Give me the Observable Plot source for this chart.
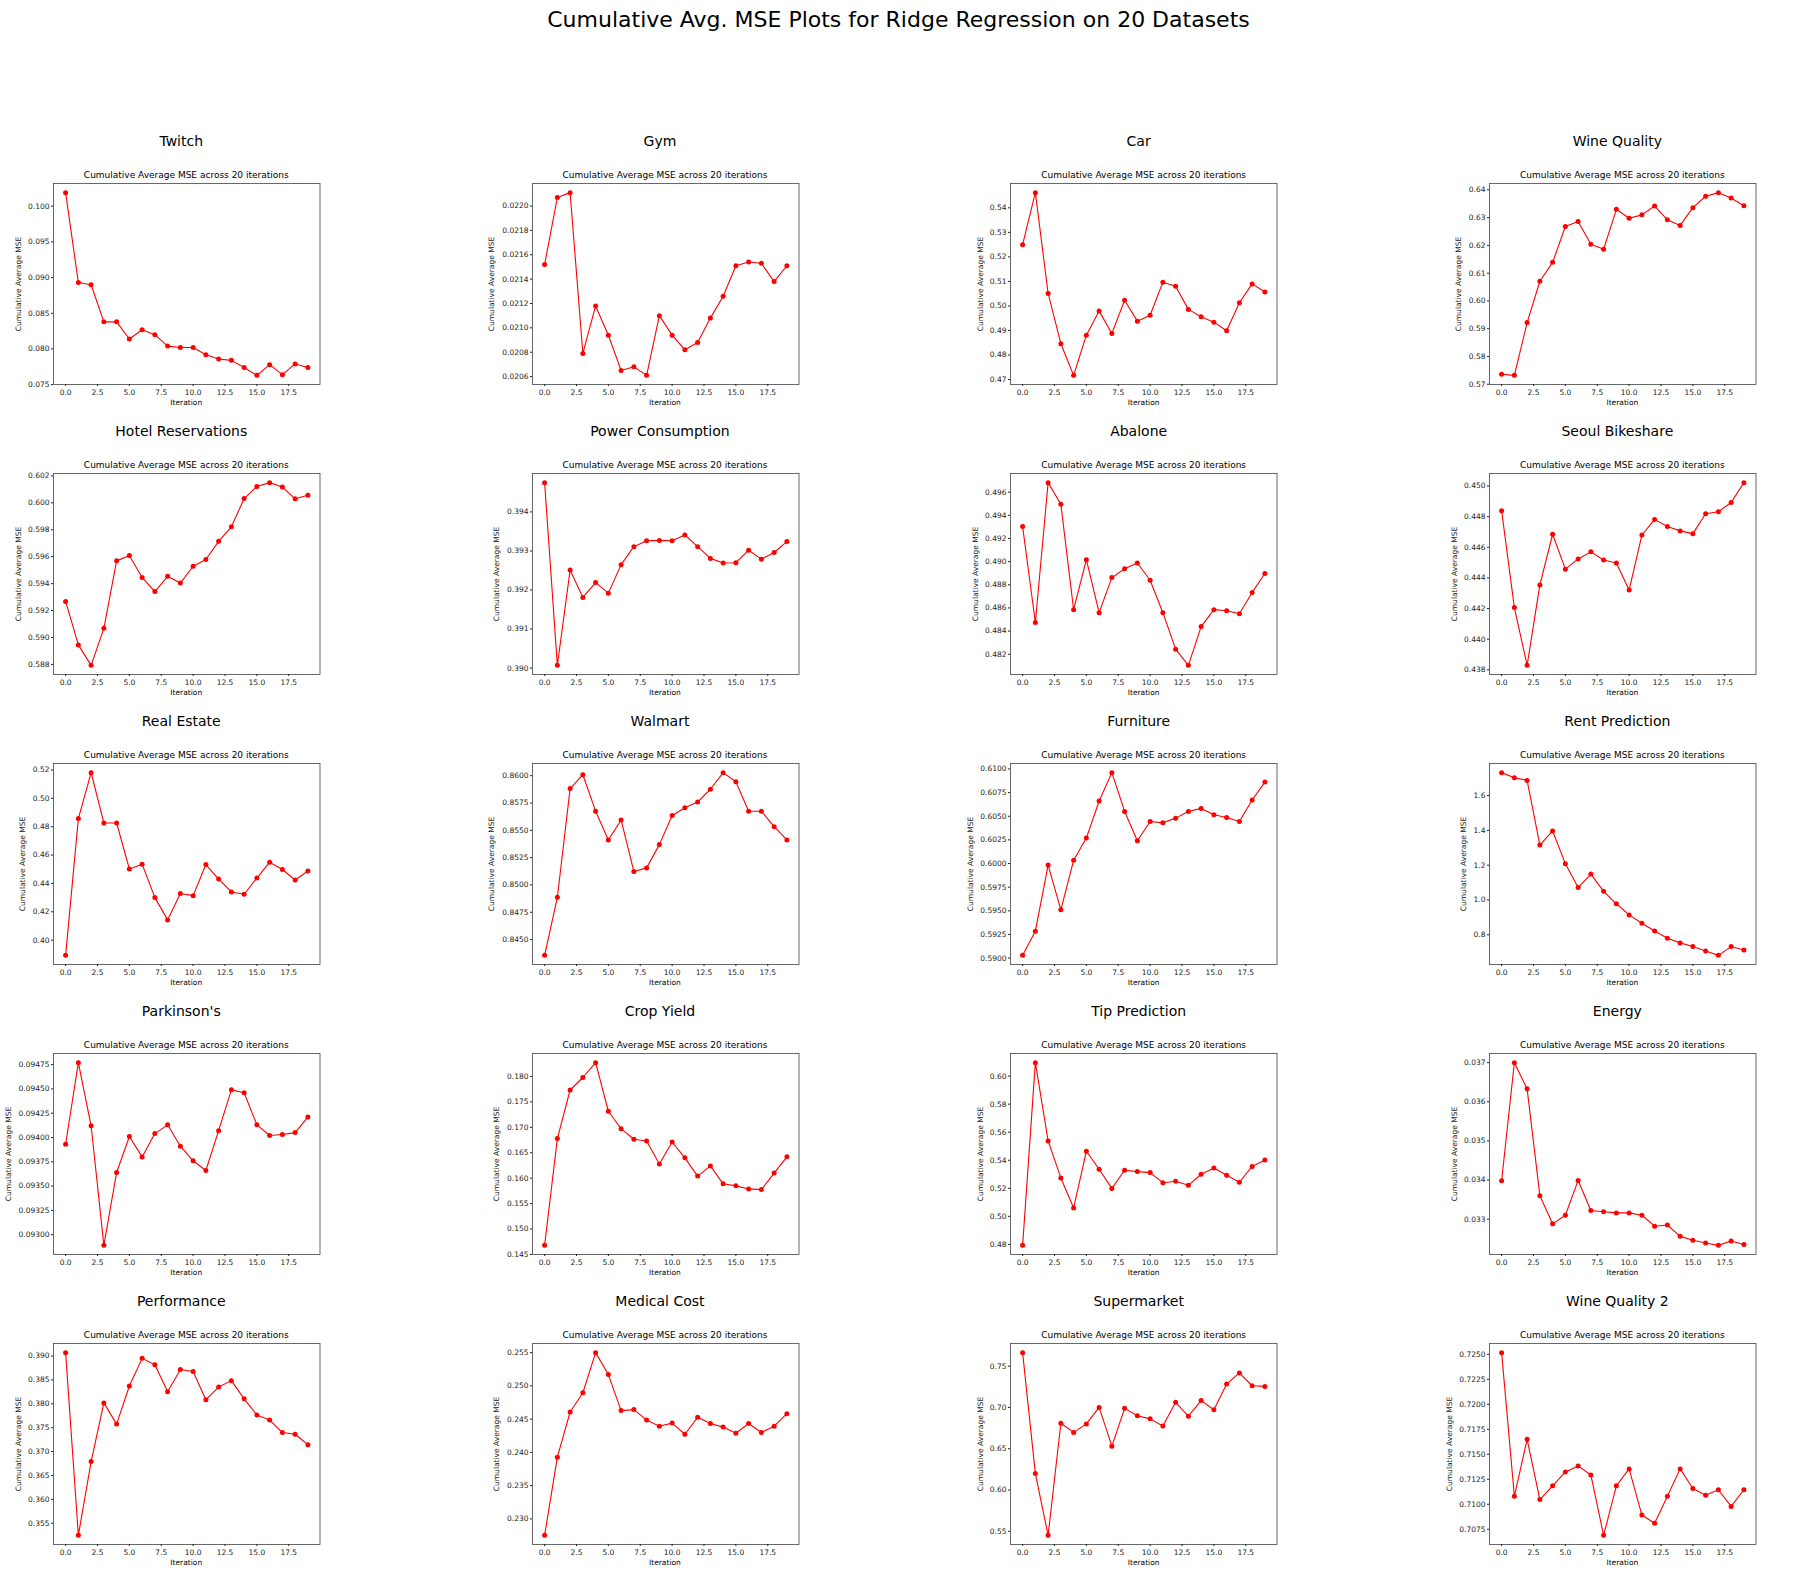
<!DOCTYPE html>
<html>
<head>
<meta charset="utf-8">
<script src="https://cdn.jsdelivr.net/npm/d3@7"></script>
<script src="https://cdn.jsdelivr.net/npm/@observablehq/plot@0.6"></script>
<style>
  html, body { margin: 0; padding: 0; background: #fff; }
  #page { position: relative; width: 1797px; height: 1593px; background: #fff; font-family: "DejaVu Sans", sans-serif; overflow: hidden; }
  .lbl { position: absolute; transform: translate(-50%, -50%); white-space: nowrap; line-height: 1; color: #000; }
  .rot { transform: translate(-50%, -50%) rotate(-90deg); color: #222; }
  .panel { position: absolute; }
</style>
</head>
<body>
<div id="page"></div>
<script>
// ---- Data ----
const suptitle = "Cumulative Avg. MSE Plots for Ridge Regression on 20 Datasets";
const innerTitle = "Cumulative Average MSE across 20 iterations";
const xLabel = "Iteration";
const yLabel = "Cumulative Average MSE";

const datasetNames = ["Twitch", "Gym", "Car", "Wine Quality",
  "Hotel Reservations", "Power Consumption", "Abalone", "Seoul Bikeshare",
  "Real Estate", "Walmart", "Furniture", "Rent Prediction",
  "Parkinson's", "Crop Yield", "Tip Prediction", "Energy",
  "Performance", "Medical Cost", "Supermarket", "Wine Quality 2"];

const iterations = [0,1,2,3,4,5,6,7,8,9,10,11,12,13,14,15,16,17,18,19];
const xTickLabels = ["0.0","2.5","5.0","7.5","10.0","12.5","15.0","17.5"];

const twitchMse = [0.1019,0.0893,0.0890,0.0838,0.0838,0.0814,0.0827,0.0820,0.0804,0.0802,0.0802,0.0792,0.0786,0.0784,0.0774,0.0763,0.0778,0.0764,0.0779,0.0774];
const gymMse = [0.02152,0.02207,0.02211,0.02079,0.02118,0.02094,0.02065,0.02068,0.02061,0.02110,0.02094,0.02082,0.02088,0.02108,0.02126,0.02151,0.02154,0.02153,0.02138,0.02151];
const carMse = [0.5250,0.5462,0.5051,0.4846,0.4717,0.4881,0.4979,0.4888,0.5023,0.4938,0.4962,0.5097,0.5080,0.4986,0.4956,0.4934,0.4899,0.5013,0.5090,0.5057];
const wineQualityMse = [0.5736,0.5732,0.5922,0.6071,0.6139,0.6268,0.6286,0.6204,0.6186,0.6330,0.6298,0.6310,0.6342,0.6292,0.6272,0.6336,0.6377,0.6390,0.6371,0.6343];
const hotelMse = [0.59268,0.58945,0.58793,0.59068,0.59569,0.59609,0.59446,0.59341,0.59454,0.59404,0.59529,0.59579,0.59714,0.59822,0.60032,0.60122,0.60150,0.60117,0.60030,0.60057];
const powerMse = [0.39475,0.39007,0.39251,0.39181,0.39219,0.39192,0.39265,0.39311,0.39326,0.39327,0.39326,0.39341,0.39311,0.39281,0.39269,0.39270,0.39302,0.39279,0.39296,0.39324];
const abaloneMse = [0.49303,0.48474,0.49682,0.49495,0.48585,0.49017,0.48559,0.48862,0.48938,0.48988,0.48839,0.48559,0.48244,0.48104,0.48439,0.48585,0.48576,0.48550,0.48734,0.48897];
const seoulMse = [0.44839,0.44206,0.43829,0.44354,0.44685,0.44457,0.44524,0.44570,0.44517,0.44497,0.44321,0.44680,0.44782,0.44735,0.44707,0.44689,0.44819,0.44832,0.44892,0.45022];
const realEstateMse = [0.3893,0.4857,0.5181,0.4826,0.4826,0.4502,0.4536,0.4300,0.4143,0.4329,0.4314,0.4533,0.4431,0.4340,0.4324,0.4438,0.4550,0.4498,0.4424,0.4488];
const walmartMse = [0.84355,0.84887,0.85882,0.86009,0.85675,0.85412,0.85595,0.85122,0.85156,0.85369,0.85635,0.85706,0.85759,0.85876,0.86028,0.85944,0.85675,0.85675,0.85533,0.85412];
const furnitureMse = [0.59029,0.59285,0.59984,0.59510,0.60034,0.60269,0.60661,0.60961,0.60551,0.60241,0.60444,0.60430,0.60480,0.60551,0.60583,0.60515,0.60487,0.60444,0.60672,0.60861];
const rentMse = [1.7317,1.7027,1.6872,1.3153,1.3966,1.2087,1.0712,1.1487,1.0499,0.9782,0.9143,0.8659,0.8213,0.7806,0.7535,0.7322,0.7070,0.6818,0.7322,0.7128];
const parkinsonsMse = [0.09393,0.09477,0.09412,0.09289,0.09364,0.09401,0.09380,0.09404,0.09413,0.09391,0.09376,0.09366,0.09407,0.09449,0.09446,0.09413,0.09402,0.09403,0.09405,0.09421];
const cropYieldMse = [0.14679,0.16778,0.17734,0.17980,0.18272,0.17316,0.16971,0.16765,0.16732,0.16280,0.16712,0.16400,0.16041,0.16241,0.15889,0.15849,0.15789,0.15775,0.16101,0.16420];
const tipMse = [0.4793,0.6096,0.5538,0.5274,0.5060,0.5464,0.5336,0.5199,0.5329,0.5319,0.5312,0.5240,0.5250,0.5221,0.5300,0.5344,0.5293,0.5243,0.5356,0.5401];
const energyMse = [0.03398,0.03700,0.03633,0.03360,0.03288,0.03310,0.03399,0.03322,0.03319,0.03316,0.03316,0.03310,0.03282,0.03285,0.03256,0.03246,0.03239,0.03233,0.03244,0.03235];
const performanceMse = [0.39071,0.35246,0.36791,0.38019,0.37575,0.38372,0.38951,0.38817,0.38252,0.38718,0.38675,0.38083,0.38351,0.38485,0.38104,0.37765,0.37659,0.37398,0.37363,0.37144];
const medicalMse = [0.22752,0.23928,0.24607,0.24897,0.25500,0.25170,0.24628,0.24643,0.24486,0.24394,0.24440,0.24273,0.24527,0.24435,0.24380,0.24288,0.24435,0.24300,0.24394,0.24582];
const supermarketMse = [0.7664,0.6199,0.5451,0.6809,0.6698,0.6801,0.7001,0.6531,0.6989,0.6899,0.6862,0.6776,0.7063,0.6895,0.7083,0.6972,0.7283,0.7418,0.7263,0.7255];
const wineQuality2Mse = [0.72517,0.71080,0.71650,0.71047,0.71185,0.71323,0.71384,0.71293,0.70689,0.71185,0.71354,0.70892,0.70811,0.71080,0.71354,0.71158,0.71091,0.71145,0.70979,0.71145];

const twitchTicks = ["0.075","0.080","0.085","0.090","0.095","0.100"];
const gymTicks = ["0.0206","0.0208","0.0210","0.0212","0.0214","0.0216","0.0218","0.0220"];
const carTicks = ["0.47","0.48","0.49","0.50","0.51","0.52","0.53","0.54"];
const wineQualityTicks = ["0.57","0.58","0.59","0.60","0.61","0.62","0.63","0.64"];
const hotelTicks = ["0.588","0.590","0.592","0.594","0.596","0.598","0.600","0.602"];
const powerTicks = ["0.390","0.391","0.392","0.393","0.394"];
const abaloneTicks = ["0.482","0.484","0.486","0.488","0.490","0.492","0.494","0.496"];
const seoulTicks = ["0.438","0.440","0.442","0.444","0.446","0.448","0.450"];
const realEstateTicks = ["0.40","0.42","0.44","0.46","0.48","0.50","0.52"];
const walmartTicks = ["0.8450","0.8475","0.8500","0.8525","0.8550","0.8575","0.8600"];
const furnitureTicks = ["0.5900","0.5925","0.5950","0.5975","0.6000","0.6025","0.6050","0.6075","0.6100"];
const rentTicks = ["0.8","1.0","1.2","1.4","1.6"];
const parkinsonsTicks = ["0.09300","0.09325","0.09350","0.09375","0.09400","0.09425","0.09450","0.09475"];
const cropYieldTicks = ["0.145","0.150","0.155","0.160","0.165","0.170","0.175","0.180"];
const tipTicks = ["0.48","0.50","0.52","0.54","0.56","0.58","0.60"];
const energyTicks = ["0.033","0.034","0.035","0.036","0.037"];
const performanceTicks = ["0.355","0.360","0.365","0.370","0.375","0.380","0.385","0.390"];
const medicalTicks = ["0.230","0.235","0.240","0.245","0.250","0.255"];
const supermarketTicks = ["0.55","0.60","0.65","0.70","0.75"];
const wineQuality2Ticks = ["0.7075","0.7100","0.7125","0.7150","0.7175","0.7200","0.7225","0.7250"];

const seriesList = [twitchMse, gymMse, carMse, wineQualityMse, hotelMse, powerMse, abaloneMse, seoulMse,
  realEstateMse, walmartMse, furnitureMse, rentMse, parkinsonsMse, cropYieldMse, tipMse, energyMse,
  performanceMse, medicalMse, supermarketMse, wineQuality2Mse];
const tickList = [twitchTicks, gymTicks, carTicks, wineQualityTicks, hotelTicks, powerTicks, abaloneTicks, seoulTicks,
  realEstateTicks, walmartTicks, furnitureTicks, rentTicks, parkinsonsTicks, cropYieldTicks, tipTicks, energyTicks,
  performanceTicks, medicalTicks, supermarketTicks, wineQuality2Ticks];

// ---- Layout ----
const page = document.getElementById("page");
const FW = 266.5, FH = 201;           // frame size
const COL0 = 53, COLSTEP = 478.7;     // frame left positions
const ROW0 = 183, ROWSTEP = 290;      // frame top positions
const ML = 54, MR = 4, MT = 4, MB = 16;
const FONT = "DejaVu Sans, sans-serif";
const TICKFS = 7.5;

function addLabel(text, cx, cy, size, cls) {
  const d = document.createElement("div");
  d.className = "lbl" + (cls ? " " + cls : "");
  d.textContent = text;
  d.style.left = cx + "px";
  d.style.top = cy + "px";
  d.style.fontSize = size + "px";
  d.style.fontFamily = FONT;
  page.appendChild(d);
}

addLabel(suptitle, 898.5, 20, 22);

function labelWidth(s) {
  let w = 0;
  for (const ch of s) w += (ch === "." ? 0.318 : 0.636);
  return w * TICKFS;
}

seriesList.forEach((values, k) => {
  const r = Math.floor(k / 4), c = k % 4;
  const fl = COL0 + c * COLSTEP, ft = ROW0 + r * ROWSTEP;
  const ticksStr = tickList[k];
  const ticks = ticksStr.map(Number);
  const fmt = new Map(ticks.map((t, i) => [t, ticksStr[i]]));
  const data = iterations.map((it, i) => ({i: it, v: values[i]}));
  const lo = d3.min(values), hi = d3.max(values), pad = (hi - lo) * 0.05;
  const xTicks = xTickLabels.map(Number);
  const tw = d3.max(ticksStr, labelWidth);

  addLabel(datasetNames[k], fl + FW / 2 - 5, ft - 42, 14);
  addLabel(innerTitle, fl + FW / 2, ft - 8.5, 9);
  addLabel(xLabel, fl + FW / 2, ft + FH + 19, TICKFS, "xl");
  addLabel(yLabel, fl - tw - 13, ft + FH / 2, TICKFS, "rot");

  const chart = Plot.plot({
    width: ML + FW + MR,
    height: MT + FH + MB,
    marginLeft: ML, marginRight: MR, marginTop: MT, marginBottom: MB,
    x: {domain: [-0.95, 19.95]},
    y: {domain: [lo - pad, hi + pad]},
    style: {fontFamily: FONT, fontSize: TICKFS + "px", color: "#222", background: "transparent"},
    marks: [
      Plot.frame({stroke: "#444", strokeWidth: 0.8}),
      Plot.axisX(xTicks, {tickSize: 2, tickPadding: 3, tickFormat: d => d.toFixed(1), label: null}),
      Plot.axisY(ticks, {tickSize: 2, tickPadding: 2, tickFormat: d => fmt.get(d), label: null}),
      Plot.line(data, {x: "i", y: "v", stroke: "#ff0000", strokeWidth: 1.1}),
      Plot.dot(data, {x: "i", y: "v", fill: "#ff0000", r: 2.5})
    ]
  });
  const wrap = document.createElement("div");
  wrap.className = "panel";
  wrap.style.left = (fl - ML) + "px";
  wrap.style.top = (ft - MT) + "px";
  wrap.appendChild(chart);
  page.appendChild(wrap);
});
</script>
</body>
</html>
